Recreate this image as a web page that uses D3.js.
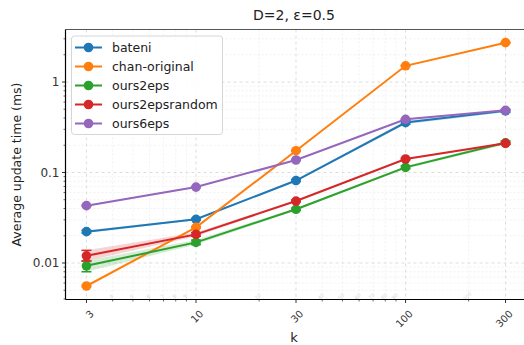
<!DOCTYPE html>
<html>
<head>
<meta charset="utf-8">
<script src="https://cdn.jsdelivr.net/npm/d3@7/dist/d3.min.js"></script>
<style>
  html, body { margin: 0; padding: 0; background: #fff; }
  svg { display: block; font-family: "DejaVu Sans", sans-serif; }
</style>
</head>
<body>
<svg id="chart" width="524" height="345"></svg>
<script>
// Benchmark results: average update time (ms) per k
const ks = [3, 10, 30, 100, 300];
const xTickLabels = ["3", "10", "30", "100", "300"];
const yTickValues = [0.01, 0.1, 1];
const yTickLabels = ["0.01", "0.1", "1"];

const seriesNames = ["bateni", "chan-original", "ours2eps", "ours2epsrandom", "ours6eps"];
const seriesColors = ["#1f77b4", "#ff7f0e", "#2ca02c", "#d62728", "#9467bd"];

const bateni         = [0.0222, 0.0304, 0.0815, 0.356, 0.480];
const chanOriginal   = [0.00557, 0.0248, 0.174, 1.51, 2.72];
const ours2eps       = [0.0093, 0.0169, 0.0392, 0.114, 0.213];
const ours2epsrandom = [0.0120, 0.0207, 0.0484, 0.141, 0.210];
const ours6eps       = [0.0430, 0.0690, 0.1375, 0.387, 0.486];

// lower / upper spread per point
const bateniLo         = [0.0214, 0.0297, 0.0795, 0.342, 0.462];
const bateniHi         = [0.0230, 0.0311, 0.0835, 0.372, 0.498];
const chanOriginalLo   = [0.00545, 0.0243, 0.171, 1.49, 2.69];
const chanOriginalHi   = [0.00569, 0.0253, 0.177, 1.53, 2.75];
const ours2epsLo       = [0.0080, 0.0160, 0.0380, 0.110, 0.204];
const ours2epsHi       = [0.0106, 0.0179, 0.0405, 0.118, 0.223];
const ours2epsrandomLo = [0.0105, 0.0198, 0.0472, 0.138, 0.205];
const ours2epsrandomHi = [0.0138, 0.0217, 0.0496, 0.144, 0.215];
const ours6epsLo       = [0.0422, 0.0680, 0.1355, 0.381, 0.478];
const ours6epsHi       = [0.0438, 0.0700, 0.1395, 0.393, 0.494];

const seriesValues = [bateni, chanOriginal, ours2eps, ours2epsrandom, ours6eps];
const seriesLo = [bateniLo, chanOriginalLo, ours2epsLo, ours2epsrandomLo, ours6epsLo];
const seriesHi = [bateniHi, chanOriginalHi, ours2epsHi, ours2epsrandomHi, ours6epsHi];

const svg = d3.select("#chart");
const plot = { left: 65.5, right: 526.5, top: 29.5, bottom: 299.5 };

const x = d3.scaleLog()
  .domain([3 / Math.pow(10, 0.1), 300 * Math.pow(10, 0.1)])
  .range([plot.left, plot.right]);

// 1 -> y 82, 0.01 -> y 263
const y = d3.scaleLog()
  .domain([0.01, 1])
  .range([263, 82]);

// grid: minor then major
const minorX = [4,5,6,7,8,9,20,40,50,60,70,80,90,200,400,500,600,700,800,900]
  .filter(v => x(v) > plot.left && x(v) < plot.right);
const minorY = [];
[0.001, 0.01, 0.1, 1].forEach(d => { for (let m = 2; m <= 9; m++) minorY.push(d * m); });
const minorYIn = minorY.filter(v => y(v) > plot.top && y(v) < plot.bottom);

const grid = svg.append("g");
grid.selectAll(".gmx").data(minorX).join("line")
  .attr("x1", d => x(d)).attr("x2", d => x(d))
  .attr("y1", plot.top).attr("y2", plot.bottom)
  .attr("stroke", "#eeeeee").attr("stroke-width", 0.8).attr("stroke-dasharray", "2,2");
grid.selectAll(".gmy").data(minorYIn).join("line")
  .attr("y1", d => y(d)).attr("y2", d => y(d))
  .attr("x1", plot.left).attr("x2", plot.right)
  .attr("stroke", "#eeeeee").attr("stroke-width", 0.8).attr("stroke-dasharray", "2,2");
grid.selectAll(".gx").data(ks).join("line")
  .attr("x1", d => x(d)).attr("x2", d => x(d))
  .attr("y1", plot.top).attr("y2", plot.bottom)
  .attr("stroke", "#d4d4d4").attr("stroke-width", 0.8).attr("stroke-dasharray", "3,3");
grid.selectAll(".gy").data(yTickValues).join("line")
  .attr("y1", d => y(d)).attr("y2", d => y(d))
  .attr("x1", plot.left).attr("x2", plot.right)
  .attr("stroke", "#d4d4d4").attr("stroke-width", 0.8).attr("stroke-dasharray", "3,3");

// faint minor labels along the bottom
svg.append("g").selectAll("text").data(minorX).join("text")
  .attr("transform", d => `translate(${x(d)},${plot.bottom - 2}) rotate(-45)`)
  .attr("text-anchor", "middle")
  .attr("font-size", 5).attr("fill", "#d8d8d8")
  .text(d => d);

// shaded spread bands
const band = d3.area()
  .x((d, i) => x(ks[i]))
  .y0(d => y(d[0]))
  .y1(d => y(d[1]));
seriesNames.forEach((name, s) => {
  const pts = ks.map((k, i) => [seriesLo[s][i], seriesHi[s][i]]);
  svg.append("path").datum(pts)
    .attr("d", band)
    .attr("fill", seriesColors[s]).attr("fill-opacity", 0.2);
});

// lines, error bars, markers
const line = d3.line().x((d, i) => x(ks[i])).y(d => y(d));
seriesNames.forEach((name, s) => {
  const g = svg.append("g");
  g.append("path").datum(seriesValues[s])
    .attr("d", line).attr("fill", "none")
    .attr("stroke", seriesColors[s]).attr("stroke-width", 2);
  ks.forEach((k, i) => {
    const cx = x(k), lo = y(seriesLo[s][i]), hi = y(seriesHi[s][i]);
    g.append("line").attr("x1", cx).attr("x2", cx).attr("y1", lo).attr("y2", hi)
      .attr("stroke", seriesColors[s]).attr("stroke-width", 1.5);
    [lo, hi].forEach(yy => g.append("line")
      .attr("x1", cx - 5).attr("x2", cx + 5).attr("y1", yy).attr("y2", yy)
      .attr("stroke", seriesColors[s]).attr("stroke-width", 1.5));
  });
  g.selectAll("circle").data(seriesValues[s]).join("circle")
    .attr("cx", (d, i) => x(ks[i])).attr("cy", d => y(d))
    .attr("r", 4.8).attr("fill", seriesColors[s]);
});

// spines
svg.append("line").attr("x1", plot.left).attr("x2", plot.right)
  .attr("y1", plot.top).attr("y2", plot.top).attr("stroke", "#555").attr("stroke-width", 1.2);
svg.append("line").attr("x1", plot.left).attr("x2", plot.right)
  .attr("y1", plot.bottom).attr("y2", plot.bottom).attr("stroke", "#000").attr("stroke-width", 1.2);
svg.append("line").attr("x1", plot.left).attr("x2", plot.left)
  .attr("y1", plot.top).attr("y2", plot.bottom).attr("stroke", "#000").attr("stroke-width", 1.2);

// x axis ticks
const xAxis = svg.append("g");
xAxis.selectAll(".mj").data(ks).join("line")
  .attr("x1", d => x(d)).attr("x2", d => x(d))
  .attr("y1", plot.bottom).attr("y2", plot.bottom + 3.5)
  .attr("stroke", "#000").attr("stroke-width", 0.8);
xAxis.selectAll(".mn").data(minorX).join("line")
  .attr("x1", d => x(d)).attr("x2", d => x(d))
  .attr("y1", plot.bottom).attr("y2", plot.bottom + 2)
  .attr("stroke", "#000").attr("stroke-width", 0.6);
xAxis.selectAll("text").data(ks).join("text")
  .attr("transform", (d, i) => `translate(${x(d) + 3},${plot.bottom + 10}) rotate(-45)`)
  .attr("text-anchor", "end")
  .attr("dy", "0.7em")
  .attr("font-size", 10).attr("fill", "#333")
  .text((d, i) => xTickLabels[i]);

// y axis ticks
const yAxis = svg.append("g");
yAxis.selectAll(".mj").data(yTickValues).join("line")
  .attr("y1", d => y(d)).attr("y2", d => y(d))
  .attr("x1", plot.left - 3.5).attr("x2", plot.left)
  .attr("stroke", "#000").attr("stroke-width", 0.8);
yAxis.selectAll(".mn").data(minorYIn).join("line")
  .attr("y1", d => y(d)).attr("y2", d => y(d))
  .attr("x1", plot.left - 2).attr("x2", plot.left)
  .attr("stroke", "#000").attr("stroke-width", 0.6);
yAxis.selectAll("text").data(yTickValues).join("text")
  .attr("x", plot.left - 6).attr("y", d => y(d))
  .attr("dy", "0.35em").attr("text-anchor", "end")
  .attr("font-size", 12).attr("fill", "#333")
  .text((d, i) => yTickLabels[i]);

// labels and title
svg.append("text").attr("x", (plot.left + plot.right) / 2 - 2).attr("y", 342)
  .attr("text-anchor", "middle").attr("font-size", 13).attr("fill", "#222").text("k");
svg.append("text").attr("transform", `translate(21,${(plot.top + plot.bottom) / 2}) rotate(-90)`)
  .attr("text-anchor", "middle").attr("font-size", 12.5).attr("fill", "#222")
  .text("Average update time (ms)");
svg.append("text").attr("x", 294).attr("y", 20)
  .attr("text-anchor", "middle").attr("font-size", 14).attr("fill", "#222")
  .text("D=2, ε=0.5");

// legend
const legend = svg.append("g");
legend.append("rect").attr("x", 71.5).attr("y", 36).attr("width", 151).attr("height", 98.5)
  .attr("rx", 3).attr("fill", "#fff").attr("fill-opacity", 0.85)
  .attr("stroke", "#d6d6d6").attr("stroke-width", 1);
seriesNames.forEach((name, s) => {
  const ly = 47.5 + s * 19;
  legend.append("line").attr("x1", 75).attr("x2", 102).attr("y1", ly).attr("y2", ly)
    .attr("stroke", seriesColors[s]).attr("stroke-width", 2);
  legend.append("circle").attr("cx", 88.5).attr("cy", ly).attr("r", 4.8).attr("fill", seriesColors[s]);
  legend.append("text").attr("x", 112).attr("y", ly).attr("dy", "0.36em")
    .attr("font-size", 12.5).attr("fill", "#222").text(name);
});
</script>
</body>
</html>
